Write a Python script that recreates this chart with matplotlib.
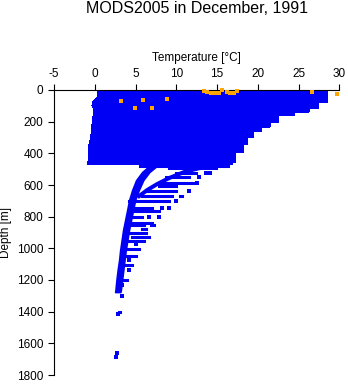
import matplotlib.pyplot as plt
import numpy as np

plt.rcParams['font.family'] = ['Liberation Sans', 'DejaVu Sans']
plt.rcParams['axes.unicode_minus'] = False

# upper mixed layer: coldest reading per depth (left edge of the cloud)
upper_depth = [0, 40, 60, 80, 100, 130, 160, 200, 250, 300, 350, 400, 440, 468]
upper_tmin = [0.36, 0.36, 0.05, -0.3, -0.35, -0.07, -0.2, -0.28, -0.44, -0.48, -0.75, -0.77, -0.8, -0.9]

# warmest reading, stepwise between depth breaks
warm_breaks = [0, 82, 114, 139, 164, 208, 234, 265, 303, 347, 392, 455, 468]
warm_tmax = [28.55, 27.5, 26.3, 24.5, 22.6, 21.5, 20.4, 19.5, 18.7, 18.2, 17.3, 16.9]

# main deep profile band
core_depth = [468, 480, 518, 569, 632, 695, 758, 821, 884, 948, 1011, 1074, 1137, 1200, 1263, 1276]
core_tmin = [7.2, 6.67, 5.82, 5.08, 4.59, 4.22, 3.98, 3.73, 3.48, 3.30, 3.12, 2.99, 2.81, 2.66, 2.54, 2.50]
core_tmax = [8.5, 7.6, 6.7, 5.95, 5.4, 4.95, 4.7, 4.45, 4.2, 4.0, 3.8, 3.65, 3.5, 3.35, 3.2, 3.15]

# warmer branch joining the main profile
branch_depth = [478, 518, 556, 594, 632, 670]
branch_temp = [14.0, 10.97, 9.13, 7.66, 6.43, 5.45]

# scattered deeper observations spanning a temperature range
run_depth = [480, 493, 493, 524, 550, 587, 606, 638, 670, 670, 701, 745, 764,
             802, 840, 853, 853, 878, 903, 929, 954, 1004, 1049, 1105, 1200, 1405]
run_t0 = [5.5, 9.13, 13.2, 10.0, 8.76, 7.9, 7.9, 6.3, 5.8, 10.4, 4.2, 4.6, 4.2,
          4.2, 4.2, 4.5, 6.9, 5.8, 3.85, 4.6, 4.0, 3.6, 4.0, 3.6, 3.6, 3.0]
run_t1 = [16.3, 12.8, 14.9, 12.4, 11.6, 12.0, 10.0, 10.0, 9.5, 10.7, 9.1, 7.0, 7.9,
          5.8, 7.0, 6.1, 7.3, 6.3, 6.3, 6.7, 6.1, 5.4, 5.1, 4.6, 3.9, 3.1]

# single deeper observations
single_depth = [524, 524, 550, 587, 638, 701, 745, 745, 802, 802, 973, 1074, 1137,
                1232, 1301, 1415, 1661, 1686]
single_temp = [13.7, 14.1, 12.8, 12.6, 11.6, 10.0, 8.3, 9.1, 6.7, 7.9, 5.1, 4.2, 4.2,
               3.4, 3.4, 2.9, 2.75, 2.6]

# flagged near-surface readings
flag_depth = [69, 61, 112, 116, 57, 6, 13, 16, 19, 19, 3, 13, 22, 19, 9, 13, 25]
flag_temp = [3.28, 5.94, 4.96, 7.0, 8.92, 13.4, 13.8, 14.3, 14.8, 15.3, 15.6, 16.2,
             16.6, 17.1, 17.5, 26.7, 29.7]

blue = '#0000f5'
orange = '#ffa500'

fig = plt.figure(figsize=(3.48, 3.84), dpi=100)
ax = fig.add_axes([54 / 348, 1 - 375 / 384, (339.3 - 54) / 348, (375 - 90) / 384])

# upper layer polygon: left edge down, stepped right edge back up
wb = np.array(warm_breaks, dtype=float)
right_d = np.repeat(wb, 2)[1:-1]
right_t = np.repeat(warm_tmax, 2)
poly_t = np.r_[upper_tmin, right_t[::-1]]
poly_d = np.r_[upper_depth, right_d[::-1]]
ax.fill(poly_t, poly_d, color=blue, lw=0, antialiased=False)

ax.fill_betweenx(core_depth, core_tmin, core_tmax, color=blue, lw=1.2, edgecolor=blue)
ax.plot(branch_temp, branch_depth, color=blue, lw=2.9, solid_capstyle='projecting')

segs = ax.hlines(run_depth, run_t0, run_t1, colors=blue, lw=2.2)
segs.set_capstyle('projecting')
ax.scatter(single_temp, single_depth, marker='s', s=9, color=blue, lw=0)

ax.scatter(flag_temp, flag_depth, marker='s', s=7, color=orange, lw=0,
           zorder=5, clip_on=False)

ax.set_xlim(-5, 30)
ax.set_ylim(1800, 0)
ax.set_xticks(np.arange(-5, 31, 5))
ax.set_yticks(np.arange(0, 1801, 200))

for side in ['right', 'bottom']:
    ax.spines[side].set_visible(False)
for side in ['top', 'left']:
    ax.spines[side].set_linewidth(0.8)

ax.xaxis.tick_top()
ax.xaxis.set_label_position('top')
ax.tick_params(direction='out', length=4.5, width=0.8, labelsize=8.5, pad=3)

ax.set_xlabel('Temperature [°C]', fontsize=8.5, labelpad=5)
ax.set_ylabel('Depth [m]', fontsize=8.5, labelpad=4)

fig.text(196.5 / 348, 1 - 1 / 384, 'MODS2005 in December, 1991', fontsize=11.5,
         ha='center', va='top')

fig.savefig('out.png', dpi=100)
